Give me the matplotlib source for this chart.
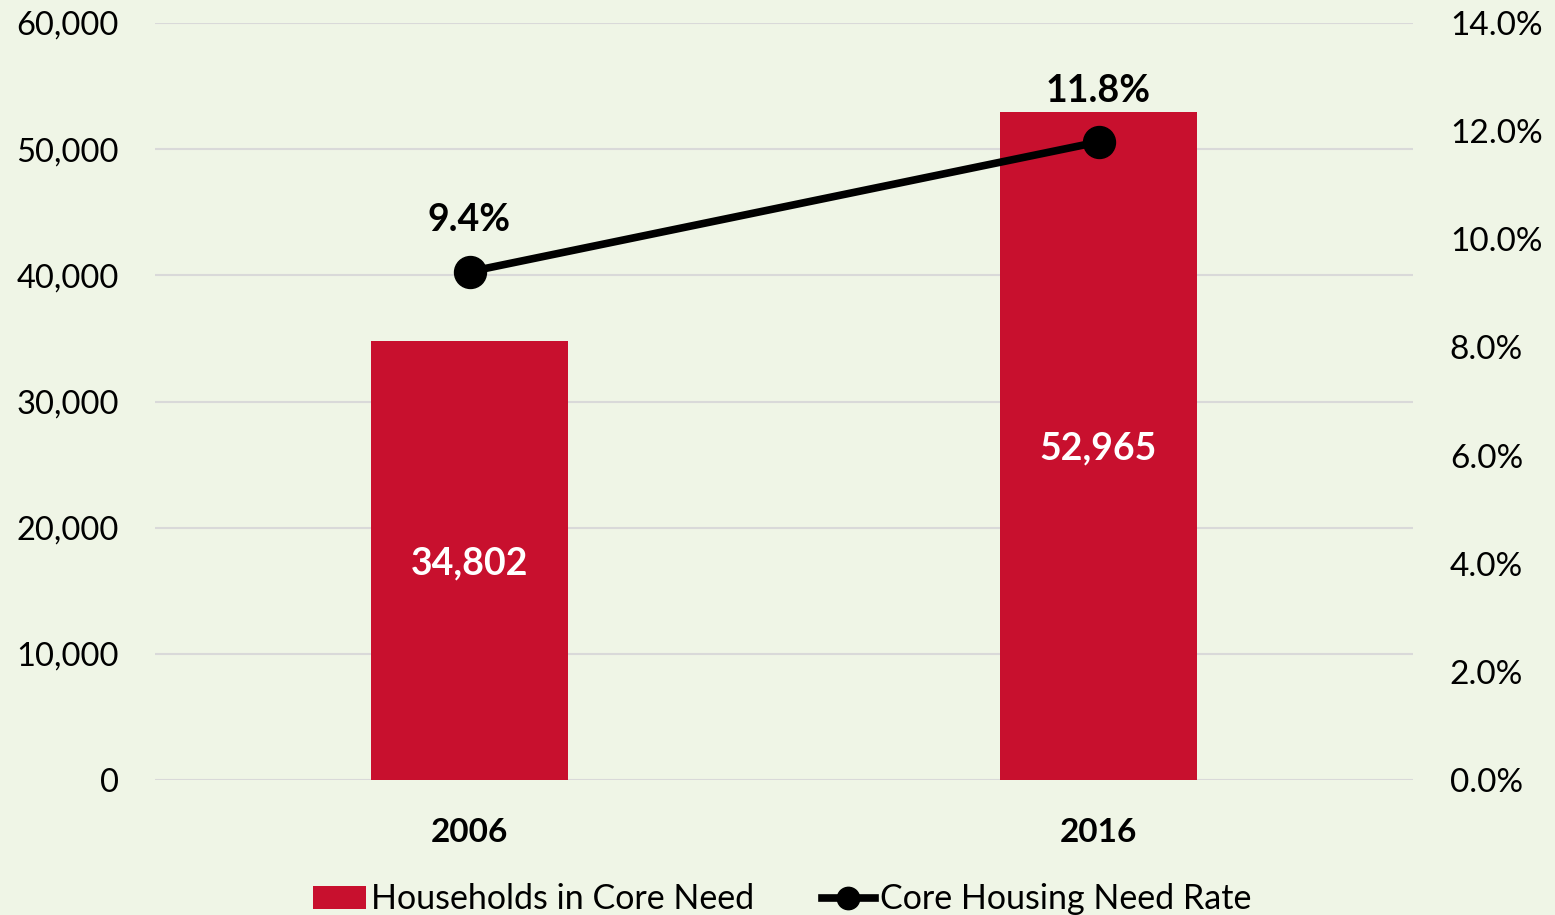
import numpy as np
import matplotlib.pyplot as plt
from matplotlib.ticker import FuncFormatter

years = ["2006", "2016"]
households = [34802, 52965]
need_rate = [9.4, 11.8]
left_ticks = [0, 10000, 20000, 30000, 40000, 50000, 60000]
right_ticks = [0, 2, 4, 6, 8, 10, 12, 14]

BG = "#EFF5E6"
RED = "#C8102E"

plt.rcParams['font.family'] = ['Lato', 'DejaVu Sans']

fig = plt.figure(figsize = (15.55, 9.15), dpi = 100, facecolor = BG)
ax = fig.add_axes([0.0997, 0.1475, 0.809, 0.8274])
ax.set_facecolor(BG)
ax2 = ax.twinx()

x = np.arange(len(years))
bars = ax.bar(x, households, width = 0.314, color = RED, zorder = 2, label = "Households in Core Need")
ax.set_ylim(0, 60000)
ax.set_xlim(-0.5, 1.5)
ax.set_yticks(left_ticks)
ax.yaxis.set_major_formatter(FuncFormatter(lambda v, p: f"{int(v):,}"))
ax.grid(True, axis = 'y', color = "#D9D9D9", linewidth = 1.5, zorder = 0)
ax.set_axisbelow(True)
ax.set_xticks(x)
ax.set_xticklabels(years, fontweight = 'bold', fontsize = 24)
ax.tick_params(axis = 'y', length = 0, labelsize = 23.5, pad = 26)
ax.tick_params(axis = 'x', length = 0, pad = 27)

for xi, v in zip(x, households):
    ax.text(xi, v / 2, f"{v:,}", ha = 'center', va = 'center_baseline', color = 'white',
            fontsize = 27, fontweight = 'bold', zorder = 4)

line, = ax2.plot(x, need_rate, color = 'black', linewidth = 5.5, marker = 'o', markersize = 23,
                 zorder = 3, label = "Core Housing Need Rate")
ax2.set_ylim(0, 14)
ax2.set_yticks(right_ticks)
ax2.yaxis.set_major_formatter(FuncFormatter(lambda v, p: f"{v:.1f}%"))
ax2.tick_params(axis = 'y', length = 0, labelsize = 24, pad = 26.5)

for xi, v in zip(x, need_rate):
    ax2.annotate(f"{v}%", (xi, v), xytext = (0, 37), textcoords = 'offset points',
                 ha = 'center', va = 'center', fontsize = 27, fontweight = 'bold')

for a in (ax, ax2):
    for s in a.spines.values():
        s.set_visible(False)

fig.legend(handles = [bars, line], labels = ["Households in Core Need", "Core Housing Need Rate"],
           loc = 'center', bbox_to_anchor = (0.503, 0.017), ncol = 2, frameon = False,
           fontsize = 24.5, handlelength = 1.55, handletextpad = 0.15, columnspacing = 2.0,
           markerscale = 0.7)

plt.savefig("out.png", dpi = 100, facecolor = BG)
